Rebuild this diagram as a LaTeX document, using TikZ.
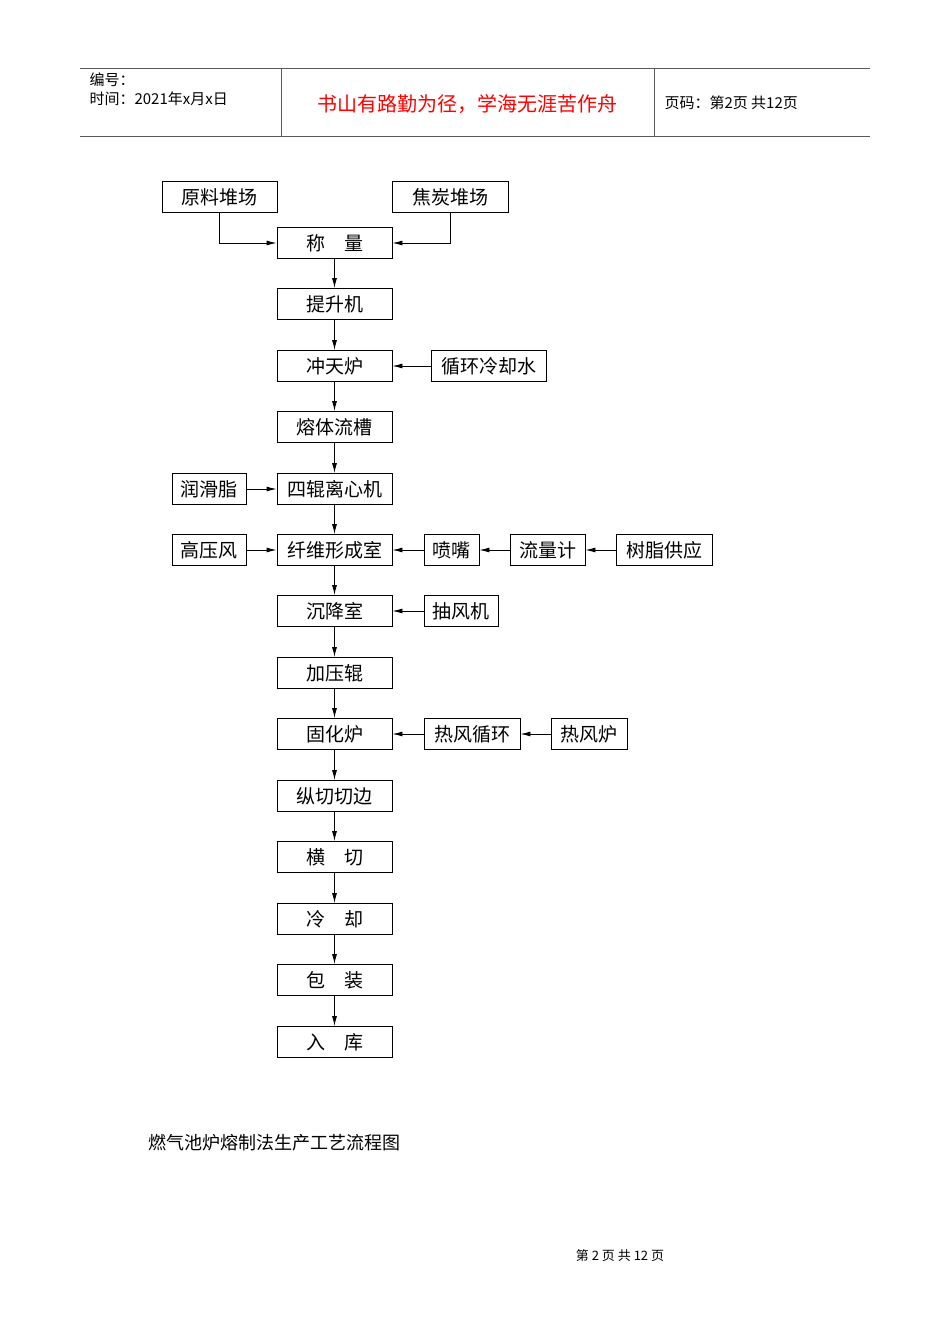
\documentclass[tikz,border=0pt]{standalone}
\usepackage{fontspec}
\newfontfamily\cjk{Noto Sans CJK SC}
\usetikzlibrary{arrows.meta}
\begin{document}
\begin{tikzpicture}[x=1pt,y=-1pt,
 bx/.style={draw,line width=0.9pt,minimum height=31pt,inner sep=0pt,font=\cjk\fontsize{19}{19}\selectfont},
 ar/.style={line width=0.9pt,-{Latex[length=10pt,width=5pt]}}]
\useasboundingbox[fill=white] (0,0) rectangle (950,1344);
\draw[line width=0.8pt,gray!70!black] (80,68)--(870,68) (80,136)--(870,136) (281,68)--(281,136) (654,68)--(654,136);
\node[anchor=west,font=\cjk\fontsize{15}{15}\selectfont] (h1) at (86,80) {编号：};
\node[anchor=west,font=\cjk\fontsize{15}{15}\selectfont] (h2) at (86,99) {时间：2021年x月x日};
\node[font=\cjk\fontsize{20}{20}\selectfont,text=red] (h3) at (467,104) {书山有路勤为径，学海无涯苦作舟};
\node[anchor=west,font=\cjk\fontsize{15}{15}\selectfont] (h4) at (661,103) {页码：第2页\ 共12页};
\foreach \n/\t/\y in {a/称\quad 量/243,b/提升机/304,c/冲天炉/366,d/熔体流槽/427,e/四辊离心机/489,f/纤维形成室/550,g/沉降室/611,h/加压辊/673,i/固化炉/734,j/纵切切边/796,k/横\quad 切/857,l/冷\quad 却/919,m/包\quad 装/980,n/入\quad 库/1042}
  \node[bx,minimum width=115pt] (\n) at (334.5,\y) {\t};
\foreach \u/\v in {a/b,b/c,c/d,d/e,e/f,f/g,g/h,h/i,i/j,j/k,k/l,l/m,m/n} \draw[ar] (\u)--(\v);
\node[bx,minimum width=115pt] (y1) at (219.5,197) {原料堆场};
\node[bx,minimum width=116pt] (y2) at (450,197) {焦炭堆场};
\draw[ar] (y1.south)|-(a.west);
\draw[ar] (y2.south)|-(a.east);
\node[bx,minimum width=115pt] (w) at (488.5,366) {循环冷却水};
\draw[ar] (w)--(c);
\node[bx,minimum width=74pt] (r) at (209,489) {润滑脂};
\draw[ar] (r)--(e);
\node[bx,minimum width=74pt] (g1) at (209,550) {高压风};
\draw[ar] (g1)--(f);
\node[bx,minimum width=55pt] (p) at (451.5,550) {喷嘴};
\node[bx,minimum width=75pt] (q) at (547.5,550) {流量计};
\node[bx,minimum width=96pt] (s) at (664,550) {树脂供应};
\draw[ar] (p)--(f); \draw[ar] (q)--(p); \draw[ar] (s)--(q);
\node[bx,minimum width=74pt] (o) at (461,611) {抽风机};
\draw[ar] (o)--(g);
\node[bx,minimum width=96pt] (t) at (472,734) {热风循环};
\node[bx,minimum width=76pt] (u) at (589,734) {热风炉};
\draw[ar] (t)--(i); \draw[ar] (u)--(t);
\node[anchor=west,font=\cjk\fontsize{18}{18}\selectfont] (cap) at (145,1143) {燃气池炉熔制法生产工艺流程图};
\node[font=\cjk\fontsize{13}{13}\selectfont] (ft) at (620,1256) {第\ 2\ 页\ 共\ 12\ 页};
\end{tikzpicture}
\end{document}
